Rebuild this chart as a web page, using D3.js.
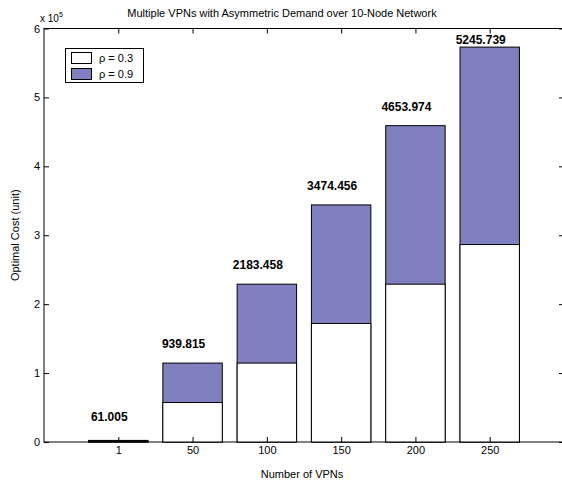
<!DOCTYPE html>
<html>
<head>
<meta charset="utf-8">
<script src="https://cdnjs.cloudflare.com/ajax/libs/d3/7.8.5/d3.min.js"></script>
<style>
  html, body { margin: 0; padding: 0; background: #fff; }
  text { font-family: "Liberation Sans", Arial, sans-serif; fill: #000; }
</style>
</head>
<body>
<svg id="chart" width="562" height="483"></svg>
<script>
// Number of VPNs on the x axis
const categories = ["1", "50", "100", "150", "200", "250"];
// Optimal cost in units of 1e5
const costRho09 = [0.023, 1.145, 2.29, 3.44, 4.59, 5.73];
const costRho03 = [0.0115, 0.573, 1.145, 1.72, 2.29, 2.865];
// Annotation text above each bar and the height (x 1e5) where it sits
const barNotes = ["61.005", "939.815", "2183.458", "3474.456", "4653.974", "5245.739"];
const noteHeights = [0.367, 1.42, 2.57, 3.72, 4.87, 5.83];
const yTicks = [0, 1, 2, 3, 4, 5, 6];
const seriesNames = ["\u03c1 = 0.3", "\u03c1 = 0.9"];
const seriesColors = ["#ffffff", "#8080c0"];

const svg = d3.select("#chart");
const mLeft = 44, mRight = 564, mTop = 28.5, mBottom = 442;

const x = d3.scaleLinear().domain([0, categories.length + 1]).range([mLeft, mRight]);
const y = d3.scaleLinear().domain([0, 6]).range([mBottom, mTop]);
const barW = x(0.8) - x(0);

// Axis frame
svg.append("rect")
  .attr("x", mLeft).attr("y", mTop)
  .attr("width", mRight - mLeft).attr("height", mBottom - mTop)
  .attr("fill", "none").attr("stroke", "#000").attr("stroke-width", 1);

// Bars: rho = 0.9 behind, rho = 0.3 in front
const g = svg.append("g");
[costRho09, costRho03].forEach((vals, k) => {
  g.selectAll(null).data(vals).enter().append("rect")
    .attr("x", (d, i) => x(i + 1) - barW / 2)
    .attr("y", d => y(d))
    .attr("width", barW)
    .attr("height", d => y(0) - y(d))
    .attr("fill", k === 0 ? seriesColors[1] : seriesColors[0])
    .attr("stroke", "#000").attr("stroke-width", 1);
});

// Bottom axis + mirrored top ticks
const xAxisB = d3.axisBottom(x).tickValues(d3.range(1, categories.length + 1))
  .tickFormat(i => categories[i - 1]).tickSizeInner(-5).tickSizeOuter(0).tickPadding(4);
const gxb = svg.append("g").attr("transform", `translate(0,${mBottom})`).call(xAxisB);
const xAxisT = d3.axisTop(x).tickValues(d3.range(1, categories.length + 1))
  .tickFormat("").tickSizeInner(-5).tickSizeOuter(0);
const gxt = svg.append("g").attr("transform", `translate(0,${mTop})`).call(xAxisT);

// Left axis + mirrored right ticks
const yAxisL = d3.axisLeft(y).tickValues(yTicks).tickFormat(d3.format("d"))
  .tickSizeInner(-5).tickSizeOuter(0).tickPadding(4);
const gyl = svg.append("g").attr("transform", `translate(${mLeft},0)`).call(yAxisL);
const yAxisR = d3.axisRight(y).tickValues(yTicks).tickFormat("")
  .tickSizeInner(-5).tickSizeOuter(0);
const gyr = svg.append("g").attr("transform", `translate(${mRight},0)`).call(yAxisR);

[gxb, gxt, gyl, gyr].forEach(a => {
  a.select(".domain").remove();
  a.selectAll("line").attr("stroke", "#000");
  a.selectAll("text").style("font-size", "11px")
    .style("font-family", "'Liberation Sans', Arial, sans-serif");
});
gxb.selectAll("text").attr("dy", "0.71em");

// Bar annotations
svg.append("g").selectAll("text").data(barNotes).enter().append("text")
  .attr("x", (d, i) => x(i + 1) - 9)
  .attr("y", (d, i) => y(noteHeights[i]))
  .attr("dy", "0.35em")
  .attr("text-anchor", "middle")
  .style("font-size", "12px").style("font-weight", "bold")
  .text(d => d);

// Exponent label
const ex = svg.append("text").attr("x", 40).attr("y", 22).style("font-size", "10px");
ex.append("tspan").text("x 10");
ex.append("tspan").attr("dy", -5).style("font-size", "7px").text("5");

// Title
svg.append("text").attr("x", 282).attr("y", 17).attr("text-anchor", "middle")
  .style("font-size", "11px")
  .text("Multiple VPNs with Asymmetric Demand over 10-Node Network");

// Axis titles
svg.append("text").attr("x", (mLeft + mRight) / 2 - 2).attr("y", 478).attr("text-anchor", "middle")
  .style("font-size", "11px").text("Number of VPNs");
svg.append("text").attr("transform", `translate(19,${(mTop + mBottom) / 2}) rotate(-90)`)
  .attr("text-anchor", "middle").style("font-size", "11px").text("Optimal Cost (unit)");

// Legend
const lg = svg.append("g");
lg.append("rect").attr("x", 65.5).attr("y", 48.5).attr("width", 78).attr("height", 34)
  .attr("fill", "#fff").attr("stroke", "#000");
seriesNames.forEach((name, k) => {
  lg.append("rect").attr("x", 71.5).attr("y", 52.5 + k * 16).attr("width", 20).attr("height", 11)
    .attr("fill", seriesColors[k]).attr("stroke", "#000");
  lg.append("text").attr("x", 99).attr("y", 58 + k * 16).attr("dy", "0.35em")
    .style("font-size", "11px").text(name);
});
</script>
</body>
</html>
